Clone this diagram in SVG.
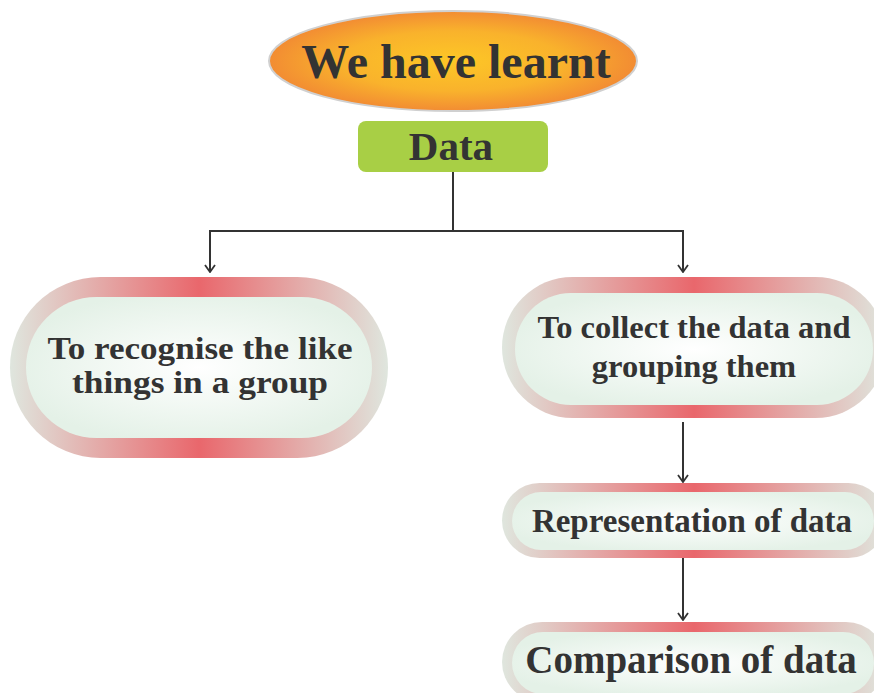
<svg xmlns="http://www.w3.org/2000/svg" width="874" height="693" viewBox="0 0 874 693">
<defs>
<radialGradient id="gOrange" cx="50%" cy="50%" r="50%">
<stop offset="0%" stop-color="#fdc726"/>
<stop offset="60%" stop-color="#f9b22c"/>
<stop offset="100%" stop-color="#f28c33"/>
</radialGradient>
<linearGradient id="gRim" x1="0" y1="0" x2="1" y2="0">
<stop offset="0%" stop-color="#dfe6de"/>
<stop offset="50%" stop-color="#e9676c"/>
<stop offset="100%" stop-color="#dfe6de"/>
</linearGradient>
<radialGradient id="gIn" cx="50%" cy="50%" r="55%">
<stop offset="0%" stop-color="#ffffff"/>
<stop offset="100%" stop-color="#e4f1e7"/>
</radialGradient>
<marker id="arr" viewBox="0 0 12 12" refX="11" refY="6" markerWidth="12" markerHeight="12" markerUnits="userSpaceOnUse" orient="auto">
<path d="M4,1 L11,6 L4,11" fill="none" stroke="#333" stroke-width="1.8"/>
</marker>
</defs>
<style>
.t{font-family:"Liberation Serif","Times New Roman",serif;font-weight:bold;fill:#333;text-anchor:middle}
.rim{fill:url(#gRim)}
.in{fill:url(#gIn)}
.c{fill:none;stroke:#333;stroke-width:2}
</style>
<rect width="874" height="693" fill="#ffffff"/>
<g id="title">
<ellipse cx="453" cy="61" rx="184" ry="50" fill="url(#gOrange)" stroke="#d0d0d0" stroke-width="2"/>
<text class="t" x="456" y="78" font-size="48">We have learnt</text>
</g>
<g id="data">
<rect x="358" y="121" width="190" height="51" rx="8" fill="#a8cf45"/>
<text class="t" x="451" y="160" font-size="41">Data</text>
</g>
<g id="connectors">
<path class="c" d="M453,172 V231 H210 V272" marker-end="url(#arr)"/>
<path class="c" d="M453,231 H683 V272" marker-end="url(#arr)"/>
<path class="c" d="M683,422 V482" marker-end="url(#arr)"/>
<path class="c" d="M683,558 V620" marker-end="url(#arr)"/>
</g>
<g id="recognise">
<rect class="rim" x="10" y="277" width="378" height="181" rx="90.5"/>
<rect class="in" x="26" y="297" width="346" height="141" rx="70.5"/>
<text class="t" x="200" y="359" font-size="31" textLength="305" lengthAdjust="spacingAndGlyphs">To recognise the like</text>
<text class="t" x="200" y="393" font-size="31" textLength="256" lengthAdjust="spacingAndGlyphs">things in a group</text>
</g>
<g id="collect">
<rect class="rim" x="502" y="277" width="384" height="141" rx="70.5"/>
<rect class="in" x="515" y="293" width="358" height="112" rx="56"/>
<text class="t" x="694" y="338" font-size="32.5">To collect the data and</text>
<text class="t" x="694" y="377" font-size="32.5">grouping them</text>
</g>
<g id="representation">
<rect class="rim" x="502" y="483" width="384" height="75" rx="37.5"/>
<rect class="in" x="512" y="492" width="362" height="58" rx="29"/>
<text class="t" x="692" y="532" font-size="33">Representation of data</text>
</g>
<g id="comparison">
<rect class="rim" x="502" y="622" width="384" height="80" rx="40"/>
<rect class="in" x="512" y="632" width="362" height="62" rx="31"/>
<text class="t" x="691" y="673" font-size="39">Comparison of data</text>
</g>
</svg>
